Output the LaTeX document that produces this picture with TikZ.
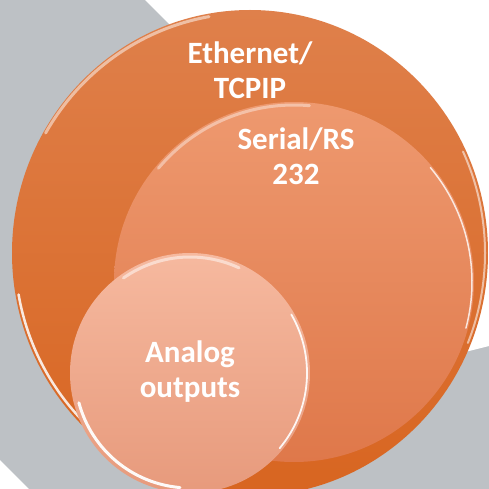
\documentclass[tikz,border=0pt]{standalone}
\usepackage{fontspec}
\setmainfont{Carlito}
\definecolor{bggray}{HTML}{BDC1C5}
\definecolor{outerTop}{HTML}{DF804B}
\definecolor{outerBot}{HTML}{D86520}
\definecolor{midTop}{HTML}{EE996F}
\definecolor{midBot}{HTML}{DF784A}
\definecolor{innTop}{HTML}{F6B99F}
\definecolor{innBot}{HTML}{E79A7C}
\begin{document}
\begin{tikzpicture}[x=1pt,y=-1pt,
  lbl/.style={text=white,font=\fontsize{31}{35}\selectfont\bfseries,align=center,inner sep=0pt},
  gloss/.style={white,line cap=round,opacity=#1},
  gloss/.default=0.6]
\useasboundingbox (0,0) rectangle (489,489);
\fill[bggray] (0,0) rectangle (489,489);
\fill[white] (145,0) -- (489,0) -- (489,346) -- (465,352) -- (300,155) -- cycle;
\fill[white] (0,460) -- (29,489) -- (0,489) -- cycle;
% outer circle
\shade[top color=outerTop,bottom color=outerBot] (250,253) ellipse[x radius=238pt,y radius=243pt];
\coordinate (eth) at (250,253);
\begin{scope}[shift={(eth)},x=1pt,y=1pt]
  \draw[gloss=0.5,line width=3pt] (100:{236pt} and {240pt}) arc[start angle=100,end angle=150,x radius=236pt,y radius=240pt];
  \draw[gloss=0.85,line width=2.5pt] (190:{235pt} and {239pt}) arc[start angle=190,end angle=228,x radius=235pt,y radius=239pt];
  \draw[gloss=0.55,line width=2pt] (25:{235pt} and {240pt}) arc[start angle=25,end angle=-22,x radius=235pt,y radius=240pt];
\end{scope}
% middle circle
\shade[top color=midTop,bottom color=midBot] (294,282) circle[radius=180pt];
\coordinate (ser) at (294,282);
\begin{scope}[shift={(ser)},x=1pt,y=1pt]
  \draw[gloss=0.4,line width=3pt] (85:177pt) arc[start angle=85,end angle=140,radius=177pt];
  \draw[gloss=0.8,line width=1.5pt] (40:178pt) arc[start angle=40,end angle=-15,radius=178pt];
\end{scope}
% inner circle
\shade[top color=innTop,bottom color=innBot] (190,373) circle[radius=120pt];
\coordinate (ana) at (190,373);
\begin{scope}[shift={(ana)},x=1pt,y=1pt]
  \draw[gloss=0.5,line width=3pt] (65:116pt) arc[start angle=65,end angle=125,radius=116pt];
  \draw[gloss=0.95,line width=3pt] (195:115pt) arc[start angle=195,end angle=265,radius=115pt];
  \draw[gloss=0.9,line width=1.8pt] (30:117pt) arc[start angle=30,end angle=-40,radius=117pt];
\end{scope}
% labels
\node[lbl] (ethl) at (250,70) {Ethernet/\\TCPIP};
\node[lbl] (serl) at (296,156) {Serial/RS\\232};
\node[lbl] (anal) at (190,372) {Analog\\outputs};
\end{tikzpicture}
\end{document}
